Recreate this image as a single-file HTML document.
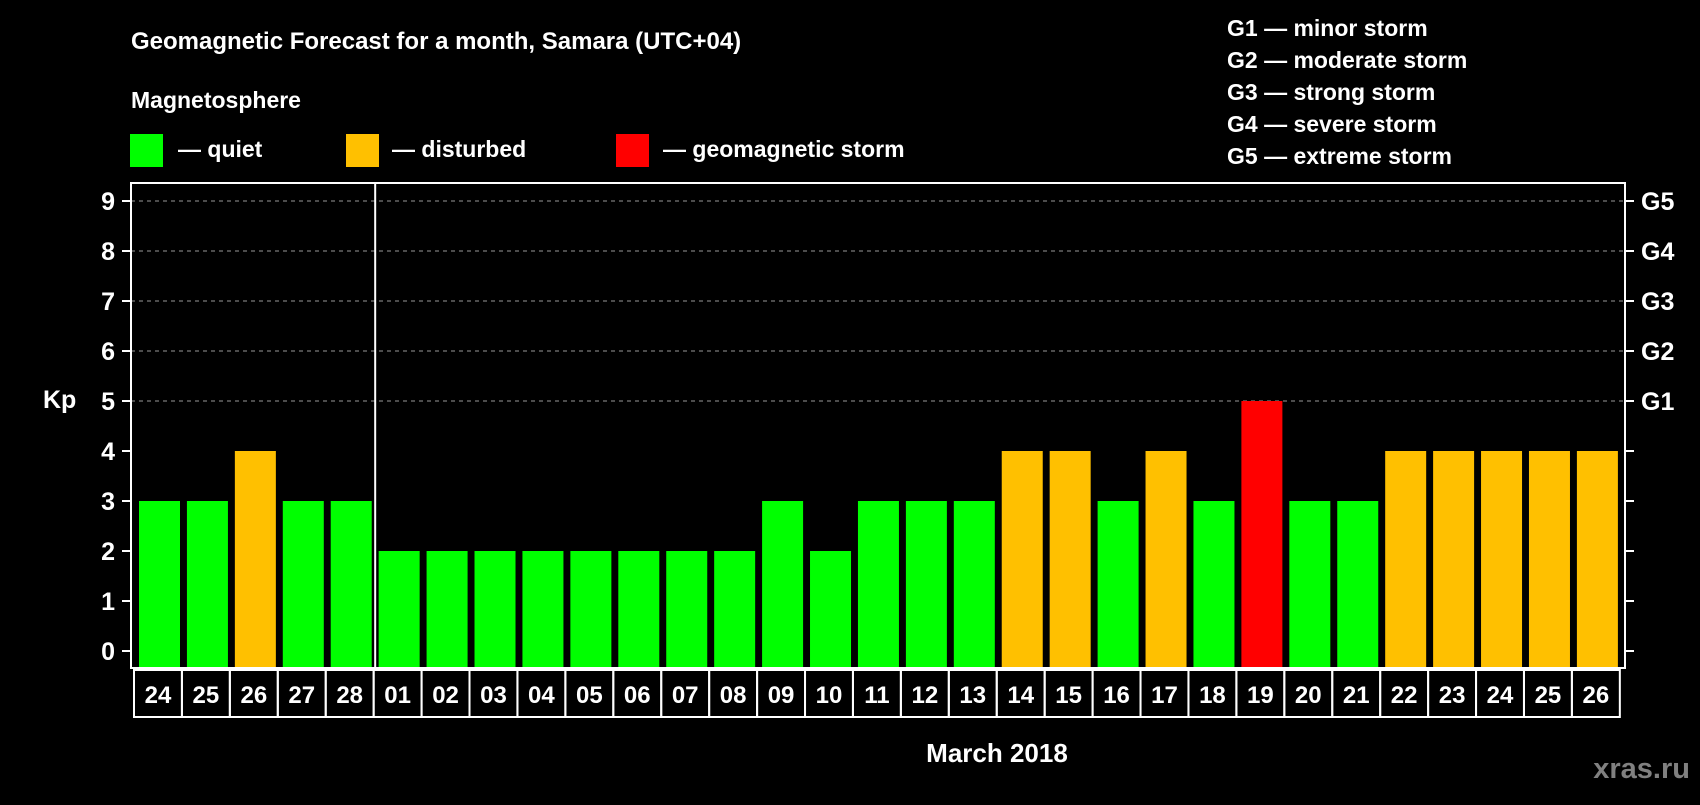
<!DOCTYPE html>
<html><head><meta charset="utf-8"><style>
body{margin:0;background:#000;width:1700px;height:800px;overflow:hidden}
svg{font-family:"Liberation Sans",Arial,sans-serif;font-weight:bold}
</style></head><body>
<svg id="c" width="1700" height="800">
<text x="131" y="49" fill="#fff" font-size="24">Geomagnetic Forecast for a month, Samara (UTC+04)</text>
<text x="131" y="108" fill="#fff" font-size="23">Magnetosphere</text>
<g><rect x="130" y="134" width="33" height="33" fill="#00ff00"/><text x="178" y="157" fill="#fff" font-size="23">— quiet</text></g>
<g><rect x="346" y="134" width="33" height="33" fill="#ffc000"/><text x="392" y="157" fill="#fff" font-size="23">— disturbed</text></g>
<g><rect x="616" y="134" width="33" height="33" fill="#ff0000"/><text x="663" y="157" fill="#fff" font-size="23">— geomagnetic storm</text></g>
<g fill="#fff" font-size="23">
<text x="1227" y="36">G1 — minor storm</text>
<text x="1227" y="68">G2 — moderate storm</text>
<text x="1227" y="100">G3 — strong storm</text>
<text x="1227" y="132">G4 — severe storm</text>
<text x="1227" y="164">G5 — extreme storm</text>
</g>
<text x="43" y="408" fill="#fff" font-size="25">Kp</text>
<text x="997" y="762" fill="#fff" font-size="26" text-anchor="middle">March 2018</text>
<text x="1690" y="778" fill="#808080" font-size="29" text-anchor="end">xras.ru</text>
<g id="plot"></g>
</svg>
<script>
const days=["24","25","26","27","28","01","02","03","04","05","06","07","08","09","10","11","12","13","14","15","16","17","18","19","20","21","22","23","24","25","26"];
const kp=[3,3,4,3,3,2,2,2,2,2,2,2,2,3,2,3,3,3,4,4,3,4,3,5,3,3,4,4,4,4,4];
const yTicks=[0,1,2,3,4,5,6,7,8,9];
const gLabels=["","","","","","G1","G2","G3","G4","G5"];
const NS="http://www.w3.org/2000/svg";
const L=131,R=1625,T=183,B=668,pitch=47.93,x0=139,bw=41;
const y=v=>651-50*v;
const xb=i=>x0+i*pitch;
const g=document.getElementById('plot');
function mk(t,a){const e=document.createElementNS(NS,t);for(const k in a)e.setAttribute(k,a[k]);g.appendChild(e);return e;}
yTicks.forEach((v,i)=>{
 if(v>=5){const l=mk('line',{x1:L,x2:R,y1:y(v),y2:y(v),stroke:'#999','stroke-dasharray':'4,4','stroke-width':1});
 
 }
 const t1=mk('line',{x1:L-9,x2:L,y1:y(v),y2:y(v),stroke:'#fff','stroke-width':2});
 
 
 const t2=mk('line',{x1:R,x2:R+9,y1:y(v),y2:y(v),stroke:'#fff','stroke-width':2});
 
 
 const tl=mk('text',{x:115,y:y(v)+9,fill:'#fff','font-size':25,'text-anchor':'end'});tl.textContent=v;
 
 
 if(gLabels[i]){const gl=mk('text',{x:1641,y:y(v)+9,fill:'#fff','font-size':25});gl.textContent=gLabels[i];
 
 }
});
kp.forEach((v,i)=>{
 const c=v>=5?'#ff0000':v>=4?'#ffc000':'#00ff00';
 const r=mk('rect',{x:xb(i),y:y(v),width:bw,height:667-y(v),fill:c});
 
 
 const bx=mk('rect',{x:134+i*pitch,y:670,width:pitch,height:47,fill:'none',stroke:'#fff','stroke-width':2});
 
 
 const t=mk('text',{x:134+i*pitch+pitch/2,y:703,fill:'#fff','font-size':24,'text-anchor':'middle'});t.textContent=days[i];
 
 
});
const fr=mk('rect',{x:L,y:T,width:R-L,height:B-T,fill:'none',stroke:'#fff','stroke-width':2});


const sx=(xb(4)+bw+xb(5))/2;
const sep=mk('line',{x1:sx,x2:sx,y1:T,y2:B,stroke:'#fff','stroke-width':2});


</script>
</body></html>
